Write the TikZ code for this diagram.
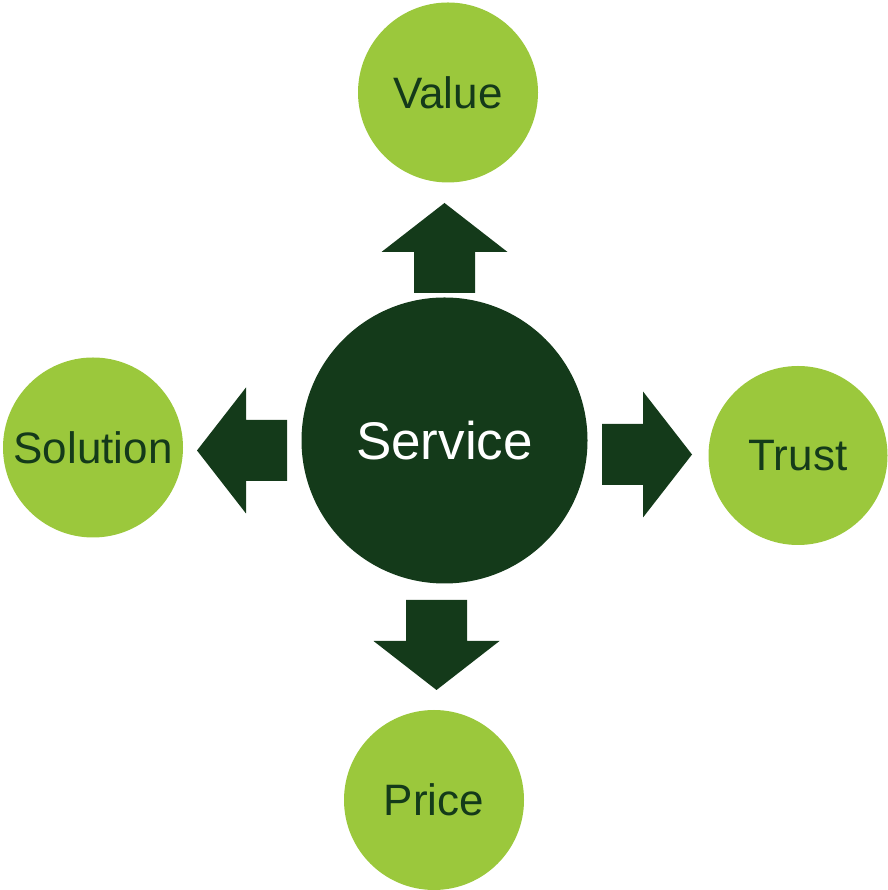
\documentclass[tikz,border=0pt]{standalone}
\usepackage{fontspec}
\setmainfont{Liberation Sans}

\definecolor{leafgreen}{HTML}{9BC83C}
\definecolor{forestgreen}{HTML}{143A1A}

\begin{document}
\begin{tikzpicture}[x=1pt,y=1pt,
    hub/.style={circle, fill=forestgreen, text=white, minimum size=286pt, inner sep=0pt,
        font=\fontsize{53}{60}\selectfont},
    spoke/.style={circle, fill=leafgreen, text=forestgreen, minimum size=180pt, inner sep=0pt,
        font=\fontsize{44}{50}\selectfont},
    blockarrow/.pic={
        \fill[forestgreen] (0,-30.5) -- (41,-30.5) -- (41,-63) -- (90,0)
            -- (41,63) -- (41,30.5) -- (0,30.5) -- cycle;
    }]
    \useasboundingbox (0,0) rectangle (887,890);

    % Center circle
    \node[hub] (service) at (444.5,449.5) {Service};

    % Outer circles
    \node[spoke] (value) at (448,797.5) {Value};
    \node[spoke] (solution) at (93,442.5) {Solution};
    \node[spoke, minimum size=179pt] (trust) at (798,434.5) {Trust};
    \node[spoke] (price) at (434,90) {Price};

    % Arrows
    \pic[rotate=90] at (444.5,597) {blockarrow};
    \pic[rotate=180] at (287,439.5) {blockarrow};
    \pic at (602,435.5) {blockarrow};
    \pic[rotate=-90] at (436.5,290) {blockarrow};
\end{tikzpicture}
\end{document}
